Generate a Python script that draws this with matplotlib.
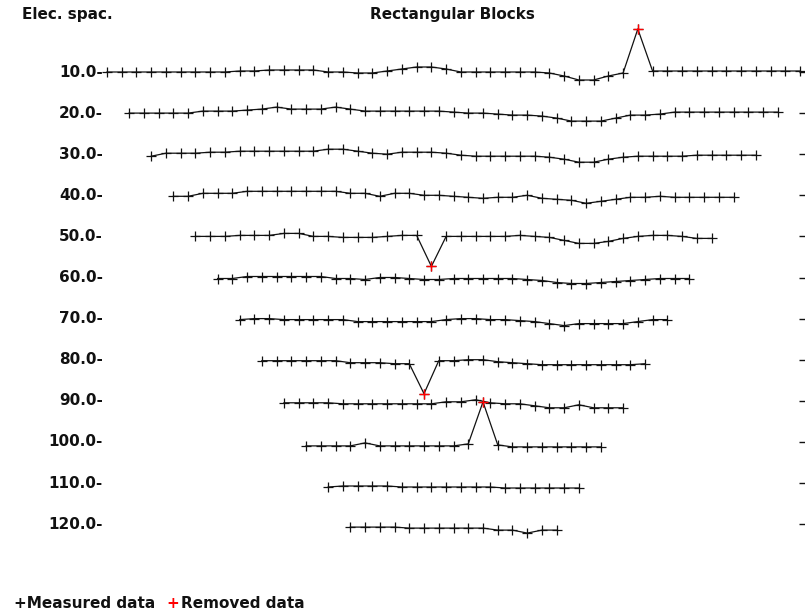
import numpy as np
import matplotlib
matplotlib.use("Agg")
import matplotlib.pyplot as plt

# electrode spacings (m) of the Wenner levels, unit electrode spacing 10 m
spacings = [10, 20, 30, 40, 50, 60, 70, 80, 90, 100, 110, 120]
n_electrodes = 51
unit = 10.0

# apparent resistivity anomaly along each level (display units, + = down)
dev10 = [0, 0, 0, 0, 0, 0, 0, 0, 0, -1, -1, -2, -2, -2, -2, 0, 0, 1, 1, -1,
         -3, -5, -5, -3, 0, 0, 0, 0, 0, 0, 1, 4, 8, 8, 4, 1, -43, -1, -1, -1,
         -1, -1, -1, -1, -1, -1, -1, -1]
dev20 = [0, 0, 0, 0, 0, -2, -2, -2, -3, -4, -6, -4, -4, -4, -6, -4, -2, -2, -2, -2,
         -2, -2, -1, 0, 0, 1, 2, 2, 3, 5, 8, 8, 8, 5, 2, 2, 1, -1, -1, -1,
         -1, -1, -1, -1, -1]
dev30 = [2, -1, -1, -1, -2, -2, -3, -3, -3, -3, -3, -3, -5, -5, -3, -1, 0, -2, -2, -2,
         -1, 1, 2, 2, 2, 2, 2, 3, 5, 8, 8, 5, 3, 2, 2, 2, 2, 1, 1, 1,
         1, 1]
dev40 = [1, 1, -2, -2, -2, -4, -4, -4, -4, -4, -4, -4, -2, -2, 1, -2, -2, 0, 0, 1,
         2, 3, 2, 2, 0, 3, 4, 5, 8, 6, 4, 2, 2, 1, 2, 2, 2, 2, 2]
dev50 = [0, 0, 0, -1, -1, -1, -3, -3, 0, 0, 1, 1, 1, 0, -1, -1, 30, 0, 0, 0,
         0, 0, -1, 0, 1, 4, 7, 7, 5, 2, 0, -1, -1, 0, 2, 2]
dev60 = [1, 1, -1, -1, -1, -1, -1, -1, 1, 1, 2, 0, 0, 1, 2, 2, 1, 1, 1, 1,
         1, 2, 3, 5, 6, 6, 5, 4, 3, 2, 1, 1, 1]
dev70 = [1, 0, 0, 1, 1, 1, 1, 1, 3, 3, 3, 3, 3, 3, 1, 0, 0, 1, 1, 2,
         3, 5, 7, 5, 5, 5, 5, 3, 1, 1]
dev80 = [1, 1, 1, 1, 1, 1, 3, 3, 3, 4, 4, 34, 1, 1, 0, 0, 2, 3, 4, 5,
         5, 5, 5, 5, 5, 5, 4]
dev90 = [2, 2, 2, 2, 3, 3, 3, 3, 3, 3, 3, 1, 1, -1, 2, 3, 3, 5, 7, 7,
         4, 7, 7, 7]
dev100 = [4, 4, 4, 4, 1, 4, 4, 4, 4, 4, 4, 2, -40, 3, 5, 5, 5, 5, 5, 5,
          5]
dev110 = [4, 3, 3, 3, 3, 4, 4, 4, 4, 4, 4, 4, 5, 5, 5, 5, 5, 5]
dev120 = [3, 3, 3, 3, 4, 4, 4, 4, 4, 4, 6, 6, 9, 6, 6]
devs = [dev10, dev20, dev30, dev40, dev50, dev60, dev70, dev80, dev90, dev100, dev110, dev120]

# (level, datum index) of the removed points
removed = [(10, 36), (50, 16), (80, 11), (100, 12)]

W, H = 805, 613
fig = plt.figure(figsize=(W / 100, H / 100), dpi=100)
ax = fig.add_axes([0, 0, 1, 1])
ax.axis("off")

# pixel <-> data scale
px_per_m = 1.4745
px_per_lvl = 4.11
x0_px, y0_px = 107, 72
ax.set_xlim(15 - x0_px / px_per_m, 15 + (W - x0_px) / px_per_m)
ax.set_ylim(10 + (H - y0_px) / px_per_lvl, 10 - y0_px / px_per_lvl)
amp = 1 / px_per_lvl   # display unit -> level units

ink = "#111111"
for a, d in zip(spacings, devs):
    npts = n_electrodes - 3 * (a // 10)
    xs = 1.5 * a + unit * np.arange(npts)
    ys = a + amp * np.array(d[:npts], dtype=float)
    ax.plot(xs, ys, color=ink, lw=0.9, marker="+", ms=7.5, mew=0.9, zorder=2)
    for lev, idx in removed:
        if lev == a:
            ax.plot(xs[idx], ys[idx], marker="+", ms=7.5, mew=1.0,
                    color="#ff0000", ls="none", zorder=3)
    # level label and right side tick
    ax.text(15 - (x0_px - 103) / px_per_m, a, f"{a:.1f}-", ha="right", va="center",
            fontsize=11, fontweight="bold", color=ink)
    ax.plot([15 + (802 - x0_px) / px_per_m], [a], marker="_", ms=4, mew=1.0,
            color=ink, zorder=1)

font = dict(fontsize=11, fontweight="bold", color=ink, va="center")
fig.text(22 / W, 1 - 15 / H, "Elec. spac.", ha="left", **font)
fig.text(452 / W, 1 - 15 / H, "Rectangular Blocks", ha="center", **font)
fig.text(14 / W, 1 - 603 / H, "+Measured data", ha="left", **font)
fig.text(166 / W, 1 - 603 / H, "+", ha="left", fontsize=11, fontweight="bold",
         color="#ff0000", va="center")
fig.text(181 / W, 1 - 603 / H, "Removed data", ha="left", **font)

fig.savefig("out.png", dpi=100, facecolor="white")
